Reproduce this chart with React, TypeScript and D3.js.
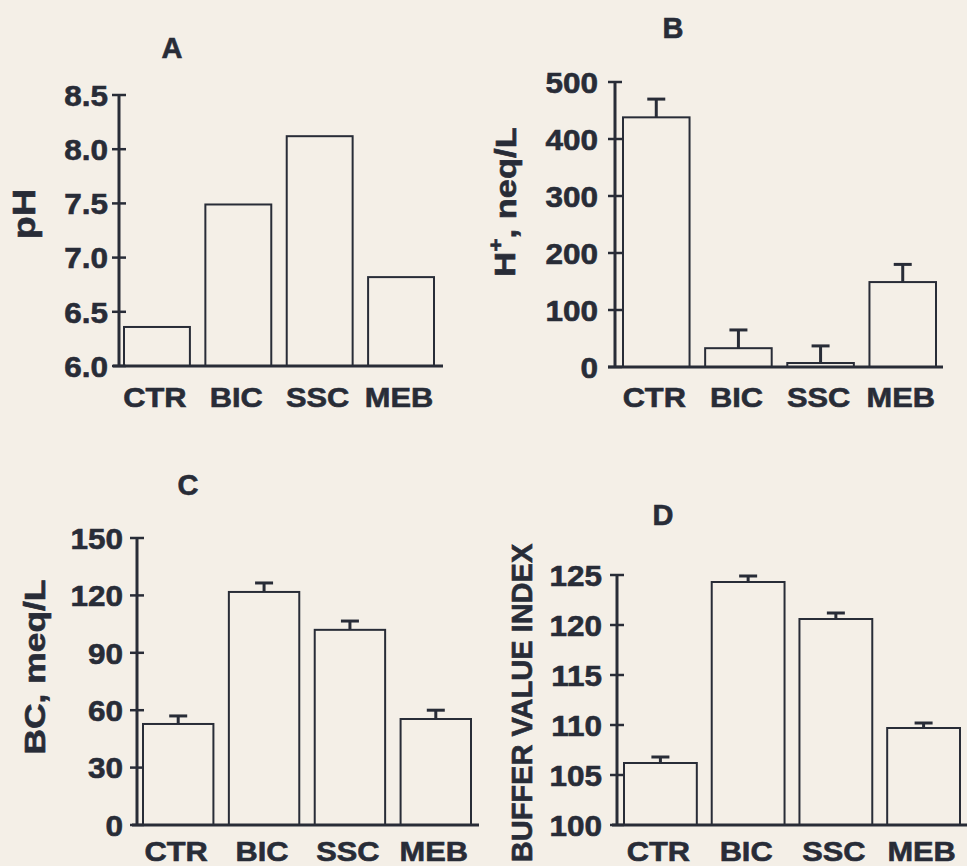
import React from "react";
import * as d3 from "d3";

// data
const categories = ["CTR", "BIC", "SSC", "MEB"];

const phValues = [6.36, 7.49, 8.12, 6.82];
const phTicks = [6.0, 6.5, 7.0, 7.5, 8.0, 8.5];

const hValues = [438, 33, 7, 149];
const hErrors = [32, 32, 30, 31];
const hTicks = [0, 100, 200, 300, 400, 500];

const bcValues = [52.8, 121.8, 102, 55.4];
const bcErrors = [4.2, 4.7, 4.6, 4.6];
const bcTicks = [0, 30, 60, 90, 120, 150];

const bviValues = [106.2, 124.3, 120.6, 109.7];
const bviErrors = [0.6, 0.6, 0.6, 0.5];
const bviTicks = [100, 105, 110, 115, 120, 125];

const INK = "#282c37";
const PAPER = "#f4efe7";
const FONT = "'Liberation Sans', Arial, Helvetica, sans-serif";

type PanelProps = {
  letter: string;
  letterX: number;
  letterY: number;
  title: React.ReactNode;
  titleX: number; // baseline x of the rotated title
  titleY: number;
  titleSize: number;
  titleStretch: number;
  axisX: number;
  yTop: number;
  yBottom: number;
  xAxisLeft: number;
  xAxisRight: number;
  barLeft: number;
  barRight: number;
  pad: number;
  catY: number;
  labelRight: number;
  domain: [number, number];
  ticks: number[];
  fmt: (v: number) => string;
  values: number[];
  errors?: number[];
};

function Panel(p: PanelProps) {
  const y = d3.scaleLinear().domain(p.domain).range([p.yBottom, p.yTop]);
  const x = d3
    .scaleBand<string>()
    .domain(categories)
    .range([p.barLeft, p.barRight])
    .paddingInner(p.pad)
    .paddingOuter(0);
  const bw = x.bandwidth();
  return (
    <g fontFamily={FONT} fontWeight="bold" fill={INK} stroke={INK} strokeWidth={0.6}>
      <text x={p.letterX} y={p.letterY} fontSize={29} textAnchor="middle">
        {p.letter}
      </text>
      <text
        transform={`translate(${p.titleX},${p.titleY}) rotate(-90) scale(${p.titleStretch},1)`}
        fontSize={p.titleSize}
        textAnchor="middle"
      >
        {p.title}
      </text>
      {/* bars */}
      {p.values.map((v, i) => {
        const c = categories[i];
        const x0 = x(c)!;
        const top = y(v);
        return (
          <g key={c}>
            <rect
              x={x0}
              y={top}
              width={bw}
              height={p.yBottom - top}
              fill={PAPER}
              stroke={INK}
              strokeWidth={2}
            />
            {p.errors && (
              <g stroke={INK} strokeWidth={3}>
                <line x1={x0 + bw / 2} x2={x0 + bw / 2} y1={top} y2={y(v + p.errors[i])} />
                <line
                  x1={x0 + bw / 2 - 9}
                  x2={x0 + bw / 2 + 9}
                  y1={y(v + p.errors[i])}
                  y2={y(v + p.errors[i])}
                />
              </g>
            )}
          </g>
        );
      })}
      {/* y axis */}
      <line x1={p.axisX} x2={p.axisX} y1={p.yTop} y2={p.yBottom} stroke={INK} strokeWidth={3} />
      {p.ticks.map((t) => (
        <g key={t}>
          <line x1={p.axisX - 7} x2={p.axisX + 7} y1={y(t)} y2={y(t)} stroke={INK} strokeWidth={2.5} />
          <text
            transform={`translate(${p.labelRight},${y(t)}) scale(1.05,1)`}
            dy="0.36em"
            fontSize={30}
            textAnchor="end"
          >
            {p.fmt(t)}
          </text>
        </g>
      ))}
      {/* x axis */}
      <line x1={p.xAxisLeft} x2={p.xAxisRight} y1={p.yBottom} y2={p.yBottom} stroke={INK} strokeWidth={3} />
      {categories.map((c) => (
        <text
          key={c}
          transform={`translate(${x(c)! + bw / 2 - 2},${p.catY}) scale(1.1,1)`}
          fontSize={28}
          textAnchor="middle"
        >
          {c}
        </text>
      ))}
    </g>
  );
}

export default function App() {
  return (
    <svg
      width={967}
      height={866}
      style={{ position: "absolute", left: 0, top: 0, display: "block" }}
    >
      <rect width={967} height={866} fill={PAPER} />
      <Panel
        letter="A"
        letterX={172}
        letterY={58}
        title="pH"
        titleX={35}
        titleY={214}
        titleSize={32}
        titleStretch={1.18}
        axisX={119}
        yTop={95}
        yBottom={366}
        xAxisLeft={113}
        xAxisRight={443}
        barLeft={124}
        barRight={434}
        pad={0.19}
        catY={407}
        labelRight={108}
        domain={[6, 8.5]}
        ticks={phTicks}
        fmt={d3.format(".1f")}
        values={phValues}
      />
      <Panel
        letter="B"
        letterX={673}
        letterY={38}
        title={
          <>
            H<tspan fontSize={20} dy="-0.6em">+</tspan>
            <tspan dy="0.42em">, neq/L</tspan>
          </>
        }
        titleX={515}
        titleY={202}
        titleSize={30}
        titleStretch={1.15}
        axisX={615}
        yTop={82}
        yBottom={367}
        xAxisLeft={608}
        xAxisRight={943}
        barLeft={623}
        barRight={936}
        pad={0.19}
        catY={407}
        labelRight={598}
        domain={[0, 500]}
        ticks={hTicks}
        fmt={d3.format("d")}
        values={hValues}
        errors={hErrors}
      />
      <Panel
        letter="C"
        letterX={188}
        letterY={495}
        title="BC, meq/L"
        titleX={45}
        titleY={667}
        titleSize={30}
        titleStretch={1.18}
        axisX={137}
        yTop={538}
        yBottom={825}
        xAxisLeft={132}
        xAxisRight={479}
        barLeft={143}
        barRight={471}
        pad={0.18}
        catY={861}
        labelRight={123}
        domain={[0, 150]}
        ticks={bcTicks}
        fmt={d3.format("d")}
        values={bcValues}
        errors={bcErrors}
      />
      <Panel
        letter="D"
        letterX={663}
        letterY={525}
        title="BUFFER VALUE INDEX"
        titleX={532}
        titleY={703}
        titleSize={29}
        titleStretch={1}
        axisX={617}
        yTop={575}
        yBottom={825}
        xAxisLeft={612}
        xAxisRight={967}
        barLeft={624}
        barRight={960}
        pad={0.17}
        catY={861}
        labelRight={602}
        domain={[100, 125]}
        ticks={bviTicks}
        fmt={d3.format("d")}
        values={bviValues}
        errors={bviErrors}
      />
    </svg>
  );
}
